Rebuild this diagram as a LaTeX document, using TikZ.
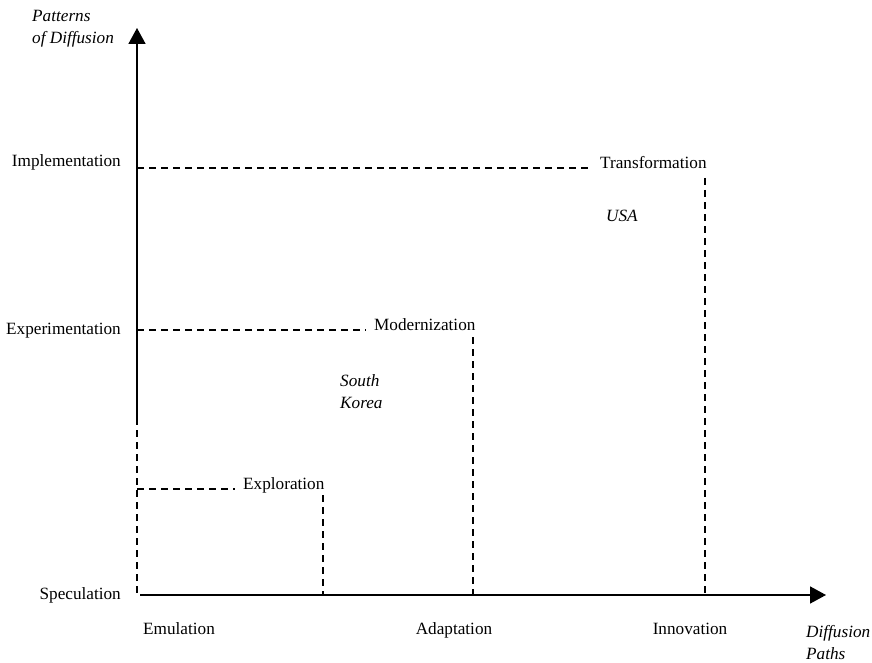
\documentclass[tikz,border=0pt]{standalone}
\usepackage{fontspec}
\setmainfont{Liberation Serif}
\usetikzlibrary{arrows.meta}

\begin{document}
\begin{tikzpicture}[x=1pt,y=-1pt,
  lbl/.style={inner sep=0pt,font=\fontsize{17.2}{22.5}\selectfont},
  ilbl/.style={inner sep=0pt,align=left,font=\fontsize{17.2}{22.5}\selectfont\itshape},
  stage/.style={lbl,inner xsep=8pt},
  axis/.style={line width=1.6pt,-{Triangle[length=16pt,width=17pt]}},
  guide/.style={line width=1.2pt,dash pattern=on 7pt off 5pt}]
  \useasboundingbox (0,0) rectangle (872,663);
  \coordinate (O) at (137,595);
  \coordinate (ytop) at (137,28);
  \coordinate (ysplit) at (137,418);
  \coordinate (xstart) at (143,595);
  \coordinate (xend) at (826,595);
  \draw[axis] (ysplit) -- (ytop);
  \draw[axis] (xstart) -- (xend);
  \draw[guide] (ysplit) -- (O) -- (xstart);
  \node[ilbl,anchor=north west] (ytitle) at (32,10) {Patterns\\of Diffusion};
  \node[ilbl,anchor=north west] (xtitle) at (806,625) {Diffusion\\Paths};
  \node[lbl,anchor=base east] (impl) at (121,167) {Implementation};
  \node[lbl,anchor=base east] (expe) at (121,334) {Experimentation};
  \node[lbl,anchor=base east] (spec) at (121,599) {Speculation};
  \node[lbl,anchor=base west] (emul) at (143,634) {Emulation};
  \node[lbl,anchor=base] (adap) at (454,634) {Adaptation};
  \node[lbl,anchor=base] (inno) at (690,634) {Innovation};
  \node[stage,anchor=base west] (expl) at (235,489) {Exploration};
  \node[stage,anchor=base west] (mode) at (366,330) {Modernization};
  \node[stage,anchor=base west] (tran) at (592,168) {Transformation};
  \node[ilbl,anchor=north west] (korea) at (340,374) {South\\Korea};
  \node[ilbl,anchor=base west] (usa) at (606,221) {USA};
  \coordinate (explv) at (323,495);
  \coordinate (modev) at (473,337);
  \coordinate (tranv) at (705,178);
  \draw[guide] (O |- expl.base west) -- (expl.base west);
  \draw[guide] (explv) -- (explv |- O);
  \draw[guide] (O |- mode.base west) -- (mode.base west);
  \draw[guide] (modev) -- (modev |- O);
  \draw[guide] (O |- tran.base west) -- (tran.base west);
  \draw[guide] (tranv) -- (tranv |- O);
\end{tikzpicture}
\end{document}
